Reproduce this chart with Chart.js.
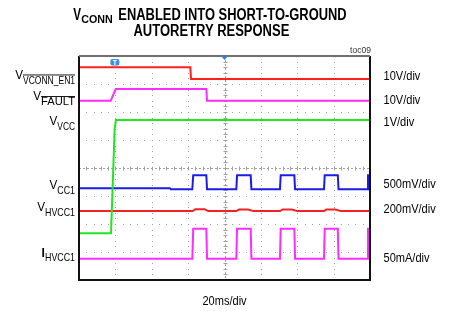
<!DOCTYPE html>
<html>
<head>
<meta charset="utf-8">
<script src="https://cdn.jsdelivr.net/npm/chart.js@4"></script>
<style>
  html, body { margin: 0; padding: 0; background: #fff; }
  #scope { display: block; }
</style>
</head>
<body>
<canvas id="scope" width="449" height="311"></canvas>
<script>
/****** Data (time in ms, level in divisions) ******/
const enT = [0, 61.2, 61.6, 160];
const enV = [7.6, 7.6, 7.18, 7.18];

const faultT = [0, 17.4, 20.2, 70.0, 70.4, 160];
const faultV = [6.4, 6.4, 6.82, 6.82, 6.4, 6.4];

const vccT = [0, 17.6, 19.6, 20.3, 160];
const vccV = [1.67, 1.67, 5.4, 5.71, 5.71];

const cc1T = [0, 50, 50.5, 62.3, 62.8, 70.0, 70.4, 86.5, 86.9, 94.4, 94.8, 110.5, 110.9, 118.4, 118.8, 134.7, 135.1, 142.3, 142.7, 158.5, 158.9, 160];
const cc1V = [3.28, 3.28, 3.24, 3.24, 3.74, 3.74, 3.24, 3.24, 3.74, 3.74, 3.24, 3.24, 3.74, 3.74, 3.24, 3.24, 3.74, 3.74, 3.24, 3.24, 3.74, 3.74];

const hvccT = [0, 62.5, 64, 69, 71, 86.5, 88, 93, 96, 110.5, 112, 117, 120, 134.7, 136, 141, 144, 160];
const hvccV = [2.46, 2.46, 2.53, 2.53, 2.46, 2.46, 2.52, 2.52, 2.46, 2.46, 2.52, 2.52, 2.46, 2.46, 2.52, 2.52, 2.46, 2.46];

const ihT = [0, 62.3, 62.8, 70.0, 70.4, 86.5, 86.9, 94.4, 94.8, 110.5, 110.9, 118.4, 118.8, 134.7, 135.1, 142.3, 142.7, 158.5, 158.9, 160];
const ihV = [0.76, 0.76, 1.83, 1.83, 0.76, 0.76, 1.83, 1.83, 0.76, 0.76, 1.83, 1.83, 0.76, 0.76, 1.83, 1.83, 0.76, 0.76, 1.83, 1.83];

// label texts
const titleLine1 = ["V", "CONN", "ENABLED INTO SHORT-TO-GROUND"];
const titleLine2 = "AUTORETRY RESPONSE";
const traceMain = ["V", "V", "V", "V", "V", "I"];
const traceSub = ["VCONN_EN1", "FAULT", "VCC", "CC1", "HVCC1", "HVCC1"];
const traceScale = ["10V/div", "10V/div", "1V/div", "500mV/div", "200mV/div", "50mA/div"];
const timeScale = "20ms/div";
const figTag = "toc09";

/****** Layout ******/
const DIVS_X = 8, DIVS_Y = 8, MS_PER_DIV = 20;
// label baselines (px) for each trace: main letter, subscript, scale text
const lblBase = [79.3, 100.3, 125.3, 189.3, 211, 257];
const subBase = [83.7, 105.3, 130.3, 193.7, 216, 261];
const subWidth = [52, 34, 17.7, 17.7, 30, 30];
const sclBase = [79.5, 104.3, 126, 187.7, 213.3, 261.7];
const LBL_RIGHT = 75;
const overlined = [true, true, false, false, false, false];

const pts = (t, v) => t.map((x, i) => ({ x: x, y: v[i] }));

// text with horizontal squeeze (the original uses a narrow face)
const drawText = (ctx, s, x, y, font, sx, align, color) => {
    ctx.save();
    ctx.font = font;
    ctx.fillStyle = color || '#000';
    ctx.textAlign = 'left';
    ctx.textBaseline = 'alphabetic';
    const w = ctx.measureText(s).width * sx;
    const x0 = align === 'right' ? x - w : align === 'center' ? x - w / 2 : x;
    ctx.translate(x0, y);
    ctx.scale(sx, 1);
    ctx.fillText(s, 0, 0);
    ctx.restore();
    return { x0: x0, w: w };
};

const fitText = (ctx, s, x, y, font, width, align) => {
    ctx.font = font;
    const sx = width / ctx.measureText(s).width;
    return drawText(ctx, s, x, y, font, sx, align || 'left');
};

/****** Graticule ******/
const graticule = {
    id: 'graticule',
    beforeDatasetsDraw(chart) {
        const { ctx, chartArea: a, scales: { x, y } } = chart;
        ctx.save();
        ctx.fillStyle = '#a0a0a0';
        // dotted division lines, dots at every fifth of a division
        for (let i = 1; i < DIVS_X; i++) {
            if (i === DIVS_X / 2) continue;
            const px = Math.round(x.getPixelForValue(i * MS_PER_DIV));
            for (let j = 0; j <= DIVS_Y * 5; j++) {
                const py = Math.round(y.getPixelForValue(j / 5));
                ctx.fillRect(px, py, 1, 1);
            }
        }
        for (let i = 1; i < DIVS_Y; i++) {
            if (i === DIVS_Y / 2) continue;
            const py = Math.round(y.getPixelForValue(i));
            for (let j = 0; j <= DIVS_X * 5; j++) {
                const px = Math.round(x.getPixelForValue(j * MS_PER_DIV / 5));
                ctx.fillRect(px, py, 1, 1);
            }
        }
        // centre cross with minor ticks
        const cx = Math.round(x.getPixelForValue(DIVS_X / 2 * MS_PER_DIV)) + 0.5;
        const cy = Math.round(y.getPixelForValue(DIVS_Y / 2)) + 0.5;
        ctx.strokeStyle = '#a0a0a0';
        ctx.lineWidth = 1;
        ctx.setLineDash([2, 2]);
        ctx.beginPath();
        ctx.moveTo(cx, a.top); ctx.lineTo(cx, a.bottom);
        ctx.moveTo(a.left, cy); ctx.lineTo(a.right, cy);
        ctx.stroke();
        ctx.setLineDash([]);
        ctx.beginPath();
        for (let j = 1; j < DIVS_Y * 5; j++) {
            const py = Math.round(y.getPixelForValue(j / 5)) + 0.5;
            ctx.moveTo(cx - 2, py); ctx.lineTo(cx + 2, py);
        }
        for (let j = 1; j < DIVS_X * 5; j++) {
            const px = Math.round(x.getPixelForValue(j * MS_PER_DIV / 5)) + 0.5;
            ctx.moveTo(px, cy - 2); ctx.lineTo(px, cy + 2);
        }
        ctx.stroke();
        ctx.restore();
    },
    afterDatasetsDraw(chart) {
        const { ctx, chartArea: a, scales: { x } } = chart;
        ctx.save();
        // frame
        ctx.lineWidth = 2;
        ctx.strokeStyle = '#111';
        ctx.beginPath();
        ctx.moveTo(a.left, a.top); ctx.lineTo(a.left, a.bottom);
        ctx.lineTo(a.right, a.bottom); ctx.lineTo(a.right, a.top);
        ctx.stroke();
        ctx.strokeStyle = '#707070';
        ctx.beginPath();
        ctx.moveTo(a.left, a.top); ctx.lineTo(a.right, a.top);
        ctx.stroke();
        // trigger position marker at top centre
        const cx = x.getPixelForValue(DIVS_X / 2 * MS_PER_DIV);
        ctx.fillStyle = '#2f7fd6';
        ctx.beginPath();
        ctx.moveTo(cx - 3.5, a.top); ctx.lineTo(cx + 3.5, a.top); ctx.lineTo(cx, a.top + 4);
        ctx.closePath();
        ctx.fill();
        // "T" trigger flag at the trigger time
        const tx = x.getPixelForValue(20);
        ctx.fillStyle = '#3d8fe0';
        ctx.beginPath();
        ctx.roundRect(tx - 5, a.top + 3, 9, 6.5, 2);
        ctx.fill();
        drawText(ctx, 'T', tx - 0.5, a.top + 9, 'bold 7px "Liberation Sans"', 1, 'center', '#fff');
        ctx.restore();
    },
    afterDraw(chart) {
        const { ctx, chartArea: a } = chart;
        ctx.save();
        // title
        fitText(ctx, titleLine1[0], 73.3, 20, 'bold 17px "Liberation Sans"', 7.8);
        fitText(ctx, titleLine1[1], 81.2, 23.3, 'bold 11px "Liberation Sans"', 31.5);
        fitText(ctx, titleLine1[2], 118.3, 20, 'bold 16.5px "Liberation Sans"', 228.4);
        fitText(ctx, titleLine2, 133.5, 36, 'bold 16px "Liberation Sans"', 155.8);

        drawText(ctx, figTag, a.right + 1, 53, '9px "Liberation Sans"', 0.95, 'right', '#333');

        // trace names and scales
        for (let i = 0; i < traceMain.length; i++) {
            const s = fitText(ctx, traceSub[i], LBL_RIGHT, subBase[i], '10.5px "Liberation Sans"', subWidth[i], 'right');
            const mainFont = traceMain[i] === 'I' ? 'bold 13.5px "Liberation Sans"' : '13px "Liberation Sans"';
            drawText(ctx, traceMain[i], s.x0, lblBase[i], mainFont, 0.9, 'right');
            if (overlined[i]) {
                ctx.fillStyle = '#000';
                ctx.fillRect(s.x0, subBase[i] - 9.2, s.w, 0.9);
            }
            drawText(ctx, traceScale[i], 383.5, sclBase[i], '13px "Liberation Sans"', 0.85, 'left');
        }
        drawText(ctx, timeScale, (a.left + a.right) / 2, 305, '13px "Liberation Sans"', 0.85, 'center');
        ctx.restore();
    }
};

/****** Chart ******/
const trace = (data, color) => ({
    data: data,
    borderColor: color,
    borderWidth: 2,
    pointRadius: 0,
    tension: 0,
    fill: false
});

const config = {
    type: 'line',
    data: {
        datasets: [
            trace(pts(enT, enV), '#ff2020'),
            trace(pts(faultT, faultV), '#ff2cff'),
            trace(pts(vccT, vccV), '#20e620'),
            trace(pts(cc1T, cc1V), '#1c1ce8'),
            trace(pts(hvccT, hvccV), '#f22222'),
            trace(pts(ihT, ihV), '#ff2cff')
        ]
    },
    options: {
        responsive: false,
        animation: false,
        layout: {
            padding: { left: 79, right: 79, top: 56, bottom: 31 }
        },
        plugins: {
            legend: { display: false },
            tooltip: { enabled: false }
        },
        scales: {
            x: { type: 'linear', min: 0, max: DIVS_X * MS_PER_DIV, display: false },
            y: { type: 'linear', min: 0, max: DIVS_Y, display: false }
        }
    },
    plugins: [graticule]
};

const scope = new Chart(document.getElementById('scope'), config);
</script>
</body>
</html>
